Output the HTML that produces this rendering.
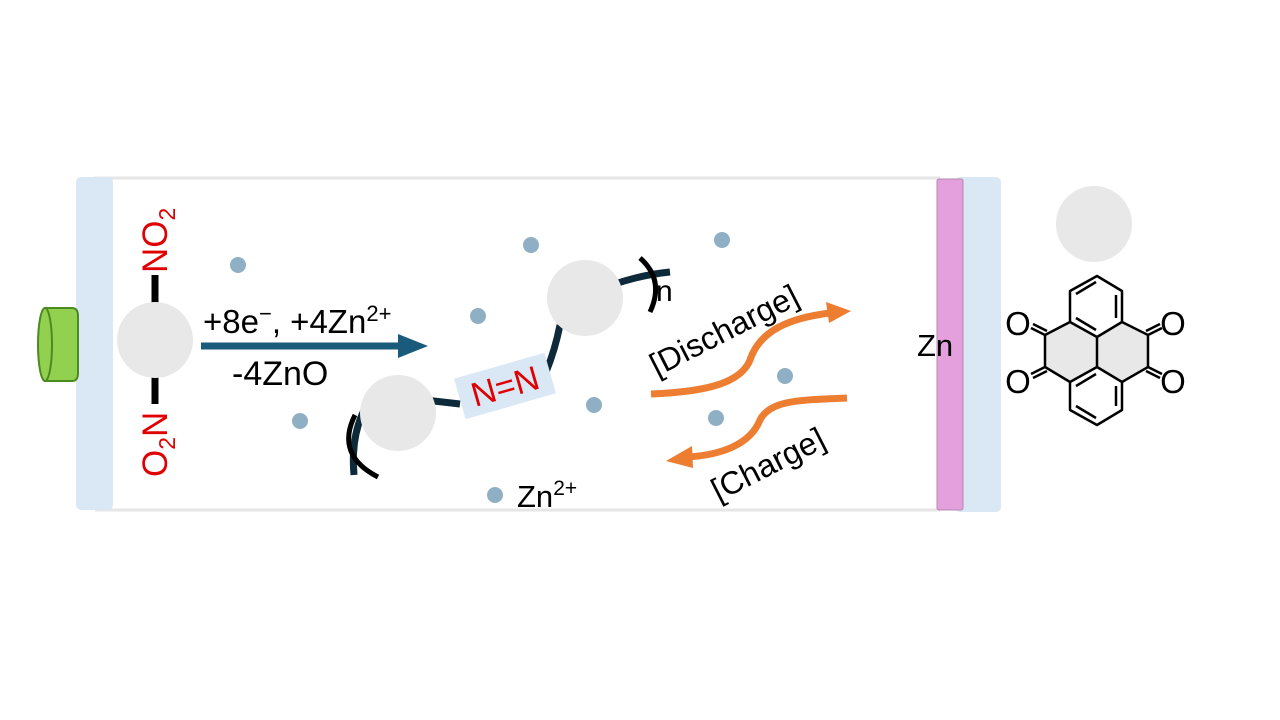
<!DOCTYPE html>
<html><head><meta charset="utf-8"><style>
html,body{margin:0;padding:0;background:#fff;}
svg{display:block;font-family:"Liberation Sans",Arial,sans-serif;}
</style></head><body>
<svg width="1280" height="720" viewBox="0 0 1280 720" xmlns="http://www.w3.org/2000/svg">
<line x1="95" y1="178" x2="940" y2="178" stroke="#e6e6e6" stroke-width="3"/>
<line x1="95" y1="510" x2="940" y2="510" stroke="#e6e6e6" stroke-width="3"/>
<rect x="76" y="177" width="37" height="333" rx="5" fill="#dae8f5"/>
<rect x="955" y="177" width="46" height="335" rx="5" fill="#dae8f5"/>
<rect x="937" y="179" width="26" height="331" rx="2" fill="#e3a0dc" stroke="#b488b0" stroke-width="1"/>
<path d="M45 308 L72 308 Q78 308 78 316 L78 373 Q78 381 72 381 L45 381 Z" fill="#92d050" stroke="#4c8a22" stroke-width="2"/>
<ellipse cx="45" cy="344.5" rx="7" ry="36.5" fill="#92d050" stroke="#4c8a22" stroke-width="2"/>
<g fill="#8fb0c4">
<circle cx="238" cy="265" r="8"/><circle cx="531" cy="245" r="8"/><circle cx="722" cy="240" r="8"/>
<circle cx="478" cy="316" r="8"/><circle cx="300" cy="421" r="8"/><circle cx="594" cy="405" r="8"/>
<circle cx="785" cy="376" r="8"/><circle cx="716" cy="418" r="8"/><circle cx="495" cy="495" r="8"/>
</g>
<line x1="155" y1="275" x2="155" y2="304" stroke="#000" stroke-width="7"/>
<line x1="155" y1="376" x2="155" y2="404" stroke="#000" stroke-width="7"/>
<circle cx="155" cy="340" r="38" fill="#e8e8e8"/>
<text transform="translate(167,273) rotate(-90)" font-size="35" fill="#e00000">NO<tspan font-size="23" dy="8">2</tspan></text>
<text transform="translate(167,477) rotate(-90)" font-size="35" fill="#e00000">O<tspan font-size="23" dy="8">2</tspan><tspan dy="-8">N</tspan></text>
<line x1="201" y1="346" x2="400" y2="346" stroke="#1a5a7a" stroke-width="7"/>
<polygon points="398,334 428,346 398,358" fill="#1a5a7a"/>
<text x="203" y="333" font-size="33">+8e<tspan font-size="22" dy="-12">−</tspan><tspan dy="12">, +4Zn</tspan><tspan font-size="22" dy="-12">2+</tspan></text>
<text x="232" y="385" font-size="34">-4ZnO</text>
<g stroke="#0d2a3a" stroke-width="7" fill="none">
<path d="M370 400 Q350 430 354 475"/>
<line x1="425" y1="400" x2="460" y2="404"/>
<path d="M546 372 Q555 350 560 325"/>
<path d="M612 285 Q640 275 670 272"/>
</g>
<path d="M355 415 Q335 455 378 477" stroke="#000" stroke-width="5" fill="none"/>
<path d="M640 258 Q665 280 650 312" stroke="#000" stroke-width="5" fill="none"/>
<circle cx="398" cy="413" r="38" fill="#e8e8e8"/>
<circle cx="585" cy="298" r="38" fill="#e8e8e8"/>
<text x="656" y="301" font-size="30">n</text>
<g transform="translate(505,386) rotate(-16)">
<rect x="-47" y="-21" width="94" height="42" fill="#dae8f5"/>
<text x="0" y="12" font-size="34" fill="#e00000" text-anchor="middle">N=N</text>
</g>
<path d="M651 394 C700 392 740 385 750 360 C760 330 790 318 830 313" stroke="#ed7d31" stroke-width="7" fill="none"/>
<polygon points="826,302 851,311 829,323" fill="#ed7d31"/>
<path d="M847 398 C800 400 770 400 760 420 C750 445 720 455 688 457" stroke="#ed7d31" stroke-width="7" fill="none"/>
<polygon points="692,446 666,461 693,468" fill="#ed7d31"/>
<text transform="translate(729,340) rotate(-27)" font-size="32" text-anchor="middle">[Discharge]</text>
<text transform="translate(773,474) rotate(-27)" font-size="32" text-anchor="middle">[Charge]</text>
<text x="917" y="356" font-size="31">Zn</text>
<text x="517" y="507" font-size="31">Zn<tspan font-size="21" dy="-12">2+</tspan></text>
<circle cx="1094" cy="224" r="38" fill="#e8e8e8"/>
<path d="M1070 322 L1097 337 L1122 322 L1148 335 L1148 367 L1122 382 L1097 367 L1070 382 L1045 367 L1045 335 Z" fill="#e8e8e8"/>
<g stroke="#000" stroke-width="2.5" fill="none" stroke-linejoin="round">
<polygon points="1097,276 1122,291 1122,322 1097,337 1070,322 1070,291"/>
<polygon points="1097,367 1122,382 1122,410 1097,425 1070,410 1070,382"/>
<line x1="1097" y1="337" x2="1097" y2="367"/>
<line x1="1076" y1="294" x2="1096" y2="282"/><line x1="1116" y1="295" x2="1116" y2="318"/><line x1="1076" y1="318" x2="1096" y2="330"/>
<line x1="1076" y1="386" x2="1096" y2="374"/><line x1="1116" y1="386" x2="1116" y2="406"/><line x1="1076" y1="406" x2="1096" y2="418"/>
<line x1="1070" y1="322" x2="1045" y2="335"/><line x1="1045" y1="335" x2="1045" y2="367"/><line x1="1045" y1="367" x2="1070" y2="382"/>
<line x1="1122" y1="322" x2="1148" y2="335"/><line x1="1148" y1="335" x2="1148" y2="367"/><line x1="1148" y1="367" x2="1122" y2="382"/>
<line x1="1045" y1="335" x2="1031" y2="328"/><line x1="1047" y1="331" x2="1033" y2="324"/>
<line x1="1045" y1="367" x2="1031" y2="374"/><line x1="1047" y1="371" x2="1033" y2="378"/>
<line x1="1148" y1="335" x2="1162" y2="328"/><line x1="1146" y1="331" x2="1160" y2="324"/>
<line x1="1148" y1="367" x2="1162" y2="374"/><line x1="1146" y1="371" x2="1160" y2="378"/>
</g>
<g font-size="33" text-anchor="middle">
<text x="1018" y="335">O</text><text x="1018" y="393">O</text>
<text x="1173" y="335">O</text><text x="1173" y="393">O</text>
</g>
</svg>
</body></html>
